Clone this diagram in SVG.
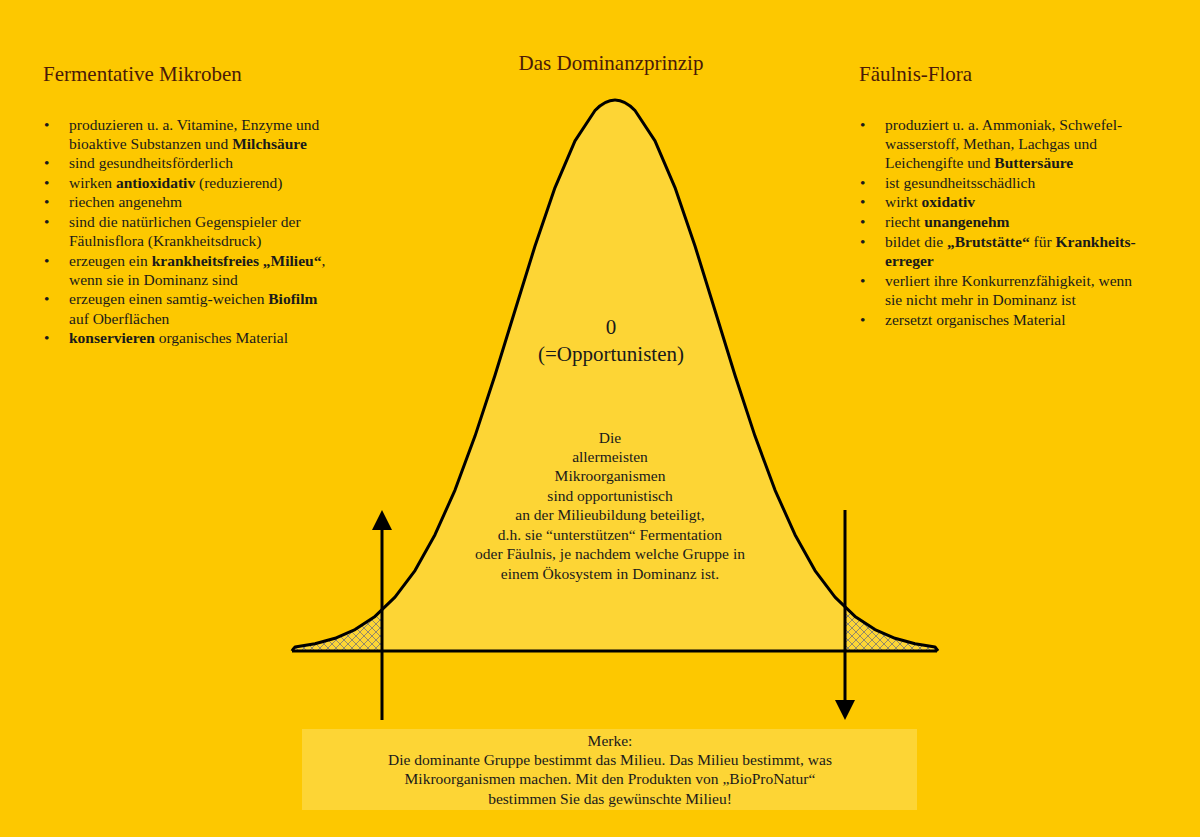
<svg xmlns="http://www.w3.org/2000/svg" width="1200" height="837" viewBox="0 0 1200 837">
<style>
text{font-family:"Liberation Serif","DejaVu Serif",serif;fill:#1a1a1a;font-size:15.5px}
.t{font-size:21px;fill:#4a1a08}
.c{text-anchor:middle}
b,.b{font-weight:bold}
.ln{fill:none;stroke:#000;stroke-width:3;stroke-linejoin:round}
</style>
<defs>
<pattern id="h" width="8" height="8" patternUnits="userSpaceOnUse">
<path d="M0,0L8,8M8,0L0,8" stroke="#777" stroke-width="0.8"/>
</pattern>
<clipPath id="cc"><path id="cv" d="M292,651 L295,647 315,643.7 335,638.3 355,629.6 375,616.4 395,597.2 415,570.6 435,534.7 455,490.1 475,436.1 495,375.2 515,310.5 535,246 555,187.6 575,140.8 595,110.5 615,100 635,110.5 655,140.8 675,187.6 695,246 715,310.5 735,375.2 755,436.1 775,490.1 795,534.7 815,570.6 835,597.2 855,616.4 875,629.6 895,638.3 915,643.7 935,647 938,651Z"/></clipPath>
<marker id="ah" markerWidth="8" markerHeight="8" refX="4" refY="4" orient="auto" markerUnits="userSpaceOnUse" viewBox="0 0 8 8"><path d="M0,0L8,4L0,8Z"/></marker>
</defs>
<rect width="1200" height="837" fill="#fdc800"/>
<g id="curve">
<path d="M292,651 L295,647 315,643.7 335,638.3 355,629.6 375,616.4 395,597.2 415,570.6 435,534.7 455,490.1 475,436.1 495,375.2 515,310.5 535,246 555,187.6 575,140.8 595,110.5 615,100 635,110.5 655,140.8 675,187.6 695,246 715,310.5 735,375.2 755,436.1 775,490.1 795,534.7 815,570.6 835,597.2 855,616.4 875,629.6 895,638.3 915,643.7 935,647 938,651Z" fill="#fdd535"/>
<g clip-path="url(#cc)"><rect x="290" y="560" width="92" height="91" fill="url(#h)"/><rect x="845" y="560" width="95" height="91" fill="url(#h)"/></g>
<path class="ln" d="M292,651 Q293,649 295,647 L315,643.7 335,638.3 355,629.6 375,616.4 395,597.2 415,570.6 435,534.7 455,490.1 475,436.1 495,375.2 515,310.5 535,246 555,187.6 575,140.8 595,110.5 Q605,100 615,100 Q625,100 635,110.5 L655,140.8 675,187.6 695,246 715,310.5 735,375.2 755,436.1 775,490.1 795,534.7 815,570.6 835,597.2 855,616.4 875,629.6 895,638.3 915,643.7 935,647 938,651"/>
<line class="ln" x1="292" y1="651" x2="937" y2="651"/>
</g>
<g id="connectors">
<line x1="382" y1="720" x2="382" y2="528" stroke="#000" stroke-width="3"/>
<path d="M382,510 L372,530 L392,530Z"/>
<line x1="845" y1="510" x2="845" y2="702" stroke="#000" stroke-width="3"/>
<path d="M845,720 L835,700 L855,700Z"/>
</g>
<g id="title"><text class="t c" x="611" y="70">Das Dominanzprinzip</text></g>
<g id="left">
<text class="t" x="43" y="81">Fermentative Mikroben</text>
<g>
<text x="44" y="130">•</text><text x="69" y="130">produzieren u. a. Vitamine, Enzyme und</text>
<text x="69" y="149">bioaktive Substanzen und <tspan class="b">Milchsäure</tspan></text>
<text x="44" y="168">•</text><text x="69" y="168">sind gesundheitsförderlich</text>
<text x="44" y="188">•</text><text x="69" y="188">wirken <tspan class="b">antioxidativ</tspan> (reduzierend)</text>
<text x="44" y="207">•</text><text x="69" y="207">riechen angenehm</text>
<text x="44" y="227">•</text><text x="69" y="227">sind die natürlichen Gegenspieler der</text>
<text x="69" y="246">Fäulnisflora (Krankheitsdruck)</text>
<text x="44" y="266">•</text><text x="69" y="266">erzeugen ein <tspan class="b">krankheitsfreies „Milieu“</tspan>,</text>
<text x="69" y="285">wenn sie in Dominanz sind</text>
<text x="44" y="304">•</text><text x="69" y="304">erzeugen einen samtig-weichen <tspan class="b">Biofilm</tspan></text>
<text x="69" y="324">auf Oberflächen</text>
<text x="44" y="343">•</text><text x="69" y="343"><tspan class="b">konservieren</tspan> organisches Material</text>
</g>
</g>
<g id="right">
<text class="t" x="859" y="81">Fäulnis-Flora</text>
<text x="860" y="130">•</text><text x="885" y="130">produziert u. a. Ammoniak, Schwefel-</text>
<text x="885" y="149">wasserstoff, Methan, Lachgas und</text>
<text x="885" y="168">Leichengifte und <tspan class="b">Buttersäure</tspan></text>
<text x="860" y="188">•</text><text x="885" y="188">ist gesundheitsschädlich</text>
<text x="860" y="207">•</text><text x="885" y="207">wirkt <tspan class="b">oxidativ</tspan></text>
<text x="860" y="227">•</text><text x="885" y="227">riecht <tspan class="b">unangenehm</tspan></text>
<text x="860" y="247">•</text><text x="885" y="247">bildet die <tspan class="b">„Brutstätte“</tspan> für <tspan class="b">Krankheits-</tspan></text>
<text x="885" y="266"><tspan class="b">erreger</tspan></text>
<text x="860" y="286">•</text><text x="885" y="286">verliert ihre Konkurrenzfähigkeit, wenn</text>
<text x="885" y="305">sie nicht mehr in Dominanz ist</text>
<text x="860" y="325">•</text><text x="885" y="325">zersetzt organisches Material</text>
</g>
<g id="center">
<text class="c" x="611" y="334" style="font-size:21px">0</text>
<text class="c" x="611" y="361" style="font-size:21px">(=Opportunisten)</text>
<text class="c" x="610" y="443">Die</text>
<text class="c" x="610" y="462">allermeisten</text>
<text class="c" x="610" y="481">Mikroorganismen</text>
<text class="c" x="610" y="501">sind opportunistisch</text>
<text class="c" x="610" y="520">an der Milieubildung beteiligt,</text>
<text class="c" x="610" y="540">d.h. sie “unterstützen“ Fermentation</text>
<text class="c" x="610" y="559">oder Fäulnis, je nachdem welche Gruppe in</text>
<text class="c" x="610" y="579">einem Ökosystem in Dominanz ist.</text>
</g>
<g id="merke">
<rect x="302" y="729" width="615" height="81" fill="#fdd535"/>
<text class="c" x="610" y="746">Merke:</text>
<text class="c" x="610" y="765">Die dominante Gruppe bestimmt das Milieu. Das Milieu bestimmt, was</text>
<text class="c" x="610" y="784">Mikroorganismen machen. Mit den Produkten von „BioProNatur“</text>
<text class="c" x="610" y="804">bestimmen Sie das gewünschte Milieu!</text>
</g>
</svg>
